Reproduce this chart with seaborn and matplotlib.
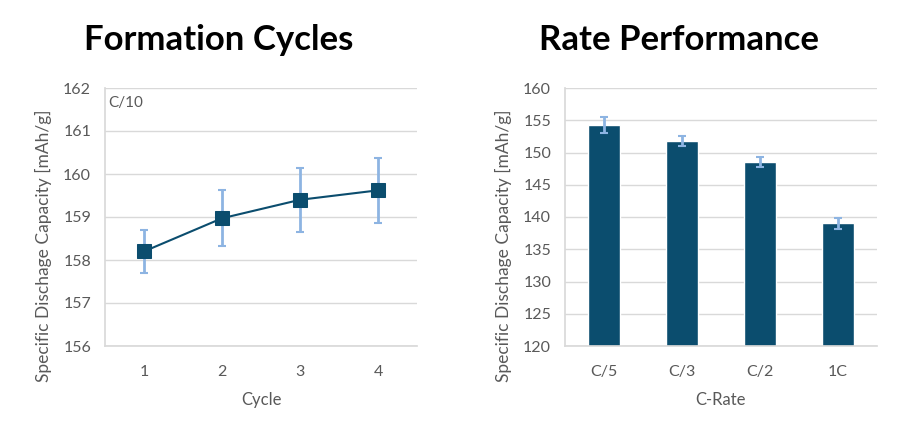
import numpy as np
import pandas as pd
import matplotlib
matplotlib.use('Agg')
import matplotlib.pyplot as plt
import seaborn as sns

# Formation cycles (C/10)
cycles = [1, 2, 3, 4]
cycle_capacity = [158.2, 158.97, 159.4, 159.62]
cycle_err = [0.5, 0.65, 0.75, 0.76]

# Rate performance
rates = ['C/5', 'C/3', 'C/2', '1C']
rate_capacity = [154.3, 151.8, 148.5, 139.0]
rate_err = [1.2, 0.8, 0.8, 0.8]

dark = '#0B4D6E'
light = '#8DB4E2'
grey = '#595959'

sns.set_theme(style='white')
plt.rcParams['font.family'] = ['Lato', 'DejaVu Sans']

fig = plt.figure(figsize=(9, 4.41), dpi=100)
ax1 = fig.add_axes([105 / 900, 1 - 346 / 441, 312 / 900, 258 / 441])
ax2 = fig.add_axes([565 / 900, 1 - 346 / 441, 312 / 900, 258 / 441])

cycleData = pd.DataFrame({'cycle': cycles, 'cap': cycle_capacity})
rateData = pd.DataFrame({'rate': rates, 'cap': rate_capacity})

ax1.errorbar(cycleData['cycle'], cycleData['cap'], yerr=cycle_err, fmt='none',
             ecolor=light, elinewidth=2, capsize=3, capthick=1.5, zorder=2)
sns.lineplot(data=cycleData, x='cycle', y='cap', ax=ax1, color=dark, marker='s',
             markersize=10, markeredgecolor=dark, linewidth=1.5, zorder=3)
ax1.set_xlim(0.5, 4.5)
ax1.set_ylim(156, 162)
ax1.set_xticks(cycles)
ax1.set_yticks(np.arange(156, 162.1, 1))
ax1.set_xlabel('Cycle', color=grey, fontsize=12, labelpad=9)
ax1.text(0.01, 0.97, 'C/10', transform=ax1.transAxes, ha='left', va='top',
         color=grey, fontsize=11)

sns.barplot(data=rateData, x='rate', y='cap', ax=ax2, color=dark, width=0.42,
            saturation=1, zorder=2)
ax2.errorbar(range(len(rates)), rate_capacity, yerr=rate_err, fmt='none',
             ecolor=light, elinewidth=2, capsize=3, capthick=1.5, zorder=3)
ax2.set_xlim(-0.5, len(rates) - 0.5)
ax2.set_ylim(120, 160)
ax2.set_yticks(np.arange(120, 160.1, 5))
ax2.set_xlabel('C-Rate', color=grey, fontsize=12, labelpad=9)

for ax in [ax1, ax2]:
    ax.set_ylabel('Specific Dischage Capacity [mAh/g]', color=grey, fontsize=12.5)
    ax.yaxis.set_label_coords(-0.17, 0.39)
    ax.grid(axis='y', color='#D9D9D9', linewidth=1)
    ax.set_axisbelow(True)
    for s in ['top', 'right']:
        ax.spines[s].set_visible(False)
    ax.spines['left'].set_color('#D9D9D9')
    ax.spines['bottom'].set_color('#D9D9D9')
    ax.tick_params(axis='both', colors=grey, labelsize=11.5, length=0)
    ax.tick_params(axis='x', pad=14)
    ax.tick_params(axis='y', pad=10)

fig.text(219 / 900, 1 - 40 / 441, 'Formation Cycles', ha='center', va='center',
         fontsize=25, fontweight='bold', color='black')
fig.text(679 / 900, 1 - 40 / 441, 'Rate Performance', ha='center', va='center',
         fontsize=25, fontweight='bold', color='black')

fig.savefig('out.png', dpi=100)
